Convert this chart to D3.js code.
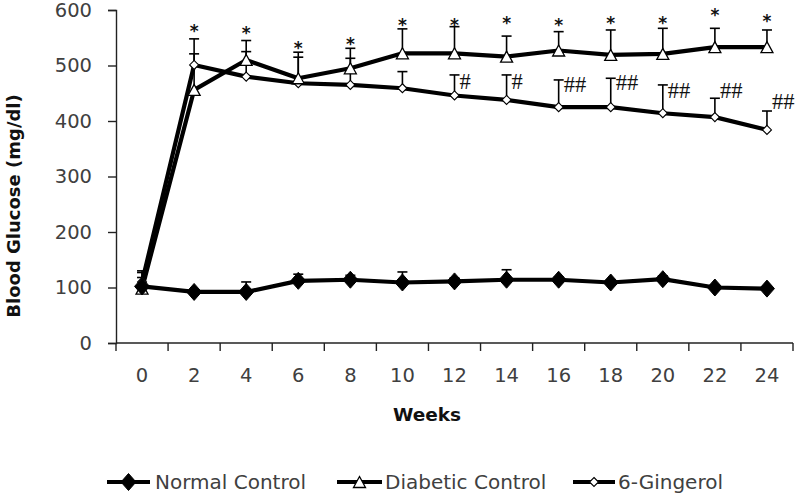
<!DOCTYPE html>
<html>
<head>
<meta charset="utf-8">
<script src="https://cdn.jsdelivr.net/npm/d3@7"></script>
<style>
  html, body { margin: 0; padding: 0; background: #fff; }
  svg { display: block; }
</style>
</head>
<body>
<svg id="chart" width="795" height="494"></svg>
<script>
// ---- data ----
const weeks = ["0","2","4","6","8","10","12","14","16","18","20","22","24"];
const yTicks = [0, 100, 200, 300, 400, 500, 600];

const normalControl = [102, 92, 92, 112, 114, 109, 111, 114, 114, 109, 115, 100, 98];
const normalErr     = [25, 4, 18, 12, 8, 19, 6, 18, 5, 5, 6, 4, 4];

const diabeticControl = [98, 456, 510, 477, 495, 522, 522, 516, 527, 519, 521, 533, 533];
const diabeticErr     = [20, 92, 35, 47, 36, 44, 48, 37, 34, 45, 46, 34, 31];

const gingerol    = [110, 501, 480, 468, 465, 459, 446, 438, 425, 425, 414, 407, 384];
const gingerolErr = [20, 20, 45, 47, 48, 30, 37, 45, 49, 52, 51, 34, 34];

// significance markers (value level where each mark sits)
const starLevel  = [null, 569, 566, 538, 546, 580, 580, 583, 580, 583, 583, 599, 588];
const hashText   = ["", "", "", "", "", "", "#", "#", "##", "##", "##", "##", "##"];
const hashLevel  = [null, null, null, null, null, null, 472, 472, 466, 470, 455, 455, 436];

const seriesNames = ["Normal Control", "Diabetic Control", "6-Gingerol"];

// ---- layout ----
const svg = d3.select("#chart");
const mLeft = 116, mRight = 793, mTop = 10, mBottom = 343;

const x = d3.scaleBand().domain(weeks).range([mLeft, mRight]).padding(0);
const y = d3.scaleLinear().domain([0, 600]).range([mBottom, mTop]);
const cx = w => x(w) + x.bandwidth() / 2;

const font = "DejaVu Sans";
const tickColor = "#404040";

// Y axis
const yAxis = svg.append("g")
  .attr("transform", `translate(${mLeft},0)`)
  .call(d3.axisLeft(y).tickValues(yTicks).tickSize(8).tickPadding(16));
yAxis.selectAll("path,line").attr("stroke", "#222").attr("stroke-width", 1.4);
yAxis.selectAll("text").attr("font-family", font).attr("font-size", 19.5).attr("fill", tickColor);

// X axis: domain line + boundary ticks + centered labels
const xAxis = svg.append("g").attr("transform", `translate(0,${mBottom})`);
xAxis.append("line").attr("x1", mLeft).attr("x2", mRight).attr("y1", 0).attr("y2", 0)
  .attr("stroke", "#222").attr("stroke-width", 1.4);
const bounds = weeks.map(w => x(w)).concat([mRight]);
xAxis.selectAll("line.tk").data(bounds).join("line").attr("class", "tk")
  .attr("x1", d => d).attr("x2", d => d).attr("y1", 0).attr("y2", 8)
  .attr("stroke", "#222").attr("stroke-width", 1.4);
xAxis.selectAll("text").data(weeks).join("text")
  .attr("x", d => cx(d)).attr("y", 39)
  .attr("text-anchor", "middle")
  .attr("font-family", font).attr("font-size", 19.5).attr("fill", tickColor)
  .text(d => d);

// Axis titles
svg.append("text").attr("x", 427).attr("y", 421).attr("text-anchor", "middle")
  .attr("font-family", font).attr("font-size", 18.5).attr("font-weight", "bold").attr("fill", "#111")
  .text("Weeks");
svg.append("text").attr("transform", "translate(20,206) rotate(-90)").attr("text-anchor", "middle")
  .attr("font-family", font).attr("font-size", 18).attr("font-weight", "bold").attr("fill", "#111")
  .text("Blood Glucose (mg/dl)");

// markers
function diamond(hw, hh) { return `M0,${-hh}L${hw},0L0,${hh}L${-hw},0Z`; }
function triangle(hw, hh) { return `M0,${-hh}L${hw},${hh}L${-hw},${hh}Z`; }

const series = [
  { name: seriesNames[0], vals: normalControl, err: normalErr,
    marker: diamond(7.5, 8.5), fill: "#000", mstroke: 1 },
  { name: seriesNames[1], vals: diabeticControl, err: diabeticErr,
    marker: triangle(6, 5.5), fill: "#fff", mstroke: 1.3 },
  { name: seriesNames[2], vals: gingerol, err: gingerolErr,
    marker: diamond(4.5, 4.5), fill: "#fff", mstroke: 1.1 }
];

const line = d3.line().x((d, i) => cx(weeks[i])).y(d => y(d));

// error bars first
series.forEach(s => {
  const g = svg.append("g");
  s.vals.forEach((v, i) => {
    const px = cx(weeks[i]);
    g.append("line").attr("x1", px).attr("x2", px).attr("y1", y(v)).attr("y2", y(v + s.err[i]))
      .attr("stroke", "#000").attr("stroke-width", 1.6);
    g.append("line").attr("x1", px - 5).attr("x2", px + 5)
      .attr("y1", y(v + s.err[i])).attr("y2", y(v + s.err[i]))
      .attr("stroke", "#000").attr("stroke-width", 1.6);
  });
});

// lines and markers
[2, 1, 0].forEach(k => {
  const s = series[k];
  svg.append("path").datum(s.vals).attr("d", line)
    .attr("fill", "none").attr("stroke", "#000").attr("stroke-width", 4.2)
    .attr("stroke-linejoin", "round");
});
[2, 1, 0].forEach(k => {
  const s = series[k];
  svg.append("g").selectAll("path").data(s.vals).join("path")
    .attr("d", s.marker)
    .attr("transform", (d, i) => `translate(${cx(weeks[i])},${y(d)})`)
    .attr("fill", s.fill).attr("stroke", "#000").attr("stroke-width", s.mstroke);
});

// stars
svg.append("g").selectAll("text").data(starLevel.map((v, i) => ({ v, i })).filter(d => d.v !== null))
  .join("text")
  .attr("x", d => cx(weeks[d.i])).attr("y", d => y(d.v) + 10)
  .attr("text-anchor", "middle")
  .attr("font-family", font).attr("font-size", 17).attr("font-weight", "bold").attr("fill", "#111")
  .text("*");

// hashes
svg.append("g").selectAll("text").data(hashLevel.map((v, i) => ({ v, i })).filter(d => d.v !== null))
  .join("text")
  .attr("x", d => cx(weeks[d.i]) + 5).attr("y", d => y(d.v) + 7.5)
  .attr("font-family", "Liberation Serif").attr("font-size", 22.5).attr("fill", "#111")
  .text(d => hashText[d.i]);

// legend
const legendItems = [
  { x0: 107, x1: 150, tx: 155, s: series[0] },
  { x0: 337, x1: 382, tx: 385, s: series[1] },
  { x0: 573, x1: 615, tx: 618, s: series[2] }
];
const ly = 482;
legendItems.forEach(it => {
  const g = svg.append("g");
  g.append("line").attr("x1", it.x0).attr("x2", it.x1).attr("y1", ly).attr("y2", ly)
    .attr("stroke", "#000").attr("stroke-width", 4.2);
  g.append("path").attr("d", it.s.marker)
    .attr("transform", `translate(${(it.x0 + it.x1) / 2},${ly})`)
    .attr("fill", it.s.fill).attr("stroke", "#000").attr("stroke-width", it.s.mstroke);
  g.append("text").attr("x", it.tx).attr("y", ly + 7)
    .attr("font-family", font).attr("font-size", 20).attr("fill", tickColor)
    .text(it.s.name);
});
</script>
</body>
</html>
